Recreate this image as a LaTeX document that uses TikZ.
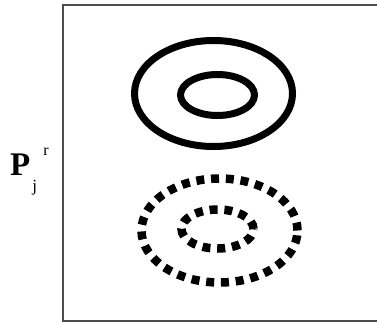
\documentclass[tikz,border=0pt]{standalone}
\usepackage{fontspec}
\setmainfont{Liberation Serif}
\begin{document}
\begin{tikzpicture}[x=1pt,y=1pt,
  frame/.style={draw=black!70,line width=2pt},
  solidring/.style={draw=black,line width=7pt},
  dotring/.style={draw=black,line width=8.5pt,dash pattern=on 8pt off 6.8pt}]
\useasboundingbox (0,0) rectangle (377,322);
\clip (0,0) rectangle (377,322);
\fill[white] (0,0) rectangle (377,322);
\draw[frame] (63,1.5) rectangle (385,316.5);
% solid rings
\draw[solidring] (213.5,228.5) ellipse [x radius=79, y radius=53];
\draw[solidring] (217.5,227) ellipse [x radius=37, y radius=20.5];
% dotted rings
\draw[dotring] (219.5,91.5) ellipse [x radius=78, y radius=52];
\draw[dotring] (217.5,93) ellipse [x radius=36, y radius=19.5];
% label
\node[anchor=base west,inner sep=0pt] (lbl) at (10,147)
  {\fontsize{33}{33}\selectfont\textbf{P}\hspace{2pt}\rlap{\raisebox{-16pt}{\fontsize{17}{17}\selectfont j}}\hspace{11pt}\raisebox{20pt}{\fontsize{16}{16}\selectfont r}};
\end{tikzpicture}
\end{document}
